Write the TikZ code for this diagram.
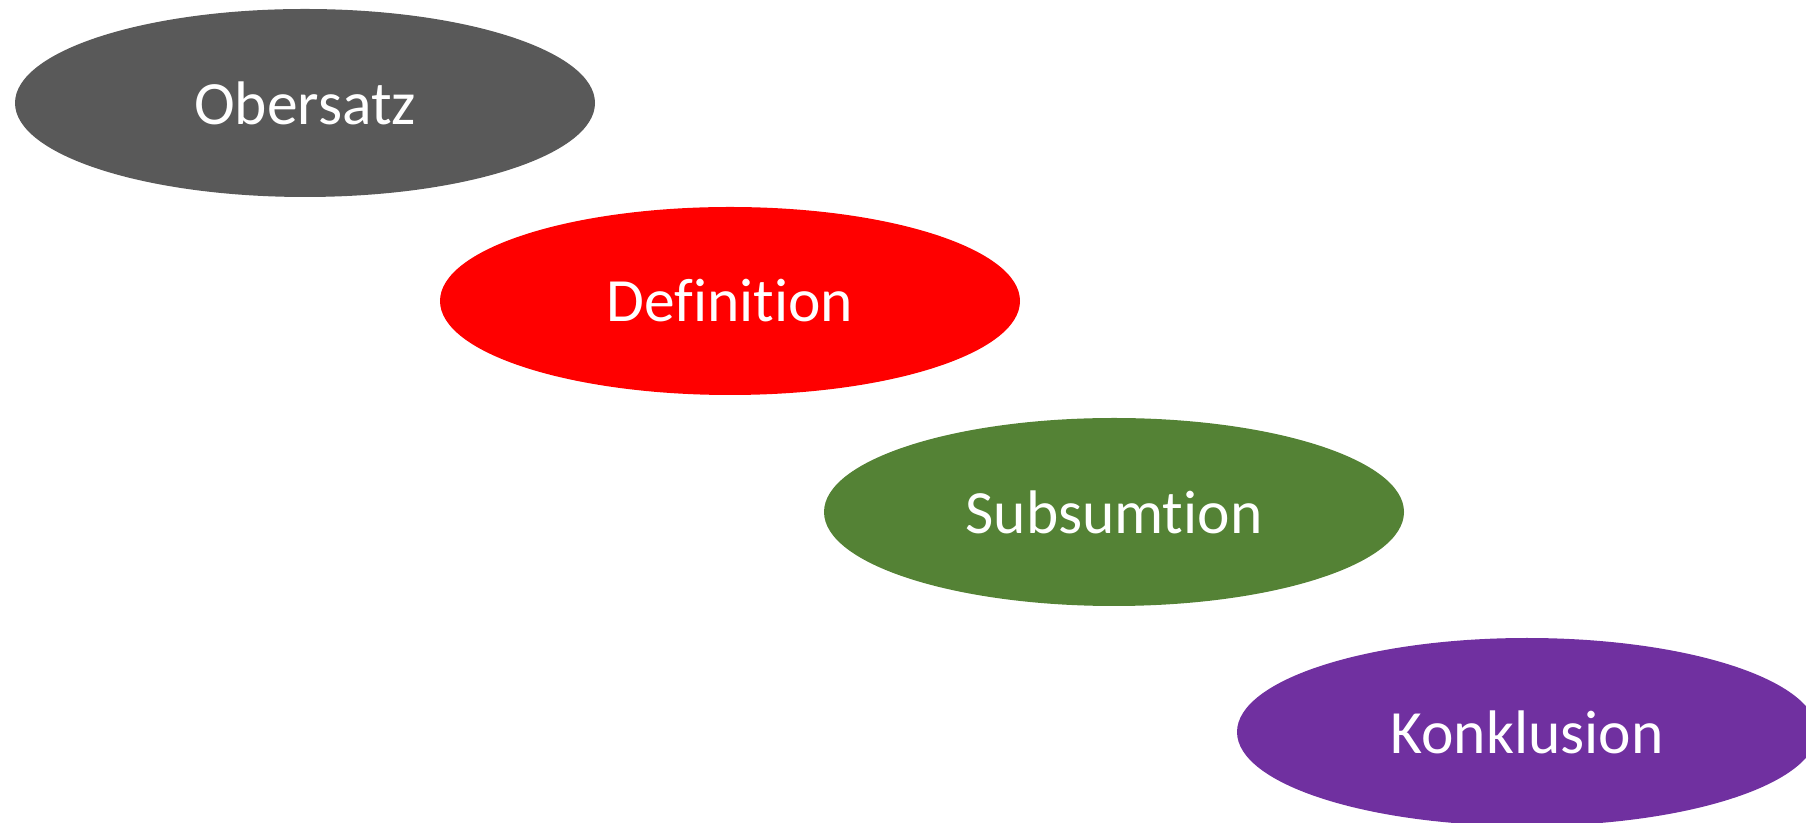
\documentclass[tikz,border=0pt]{standalone}
\usepackage{fontspec}
\setmainfont{Carlito}[RawFeature=-liga]
\usetikzlibrary{shapes.geometric}

\definecolor{obergray}{RGB}{89,89,89}
\definecolor{subgreen}{RGB}{84,130,53}
\definecolor{konpurple}{RGB}{112,48,160}

\tikzset{
  stepell/.style={ellipse, fill=#1, text=white, inner sep=0pt,
    minimum width=58.0mm, minimum height=18.8mm, font=\fontsize{17.5}{21}\selectfont}
}

\begin{document}
\begin{tikzpicture}[x=0.1mm,y=-0.1mm]
        \useasboundingbox (0,0) rectangle (1806,823); % page size
        \clip (0,0) rectangle (1806,823);
        \node[stepell=obergray] (obersatz) at (305,103) {Obersatz}; % first step
        \node[stepell=red] (definition) at (730,301) {Definition}; % second step
        \node[stepell=subgreen] (subsumtion) at (1114,512) {Subsumtion}; % third step
        \node[stepell=konpurple] (konklusion) at (1527,732) {Konklusion}; % last step, cut off
    \end{tikzpicture}
\end{document}
